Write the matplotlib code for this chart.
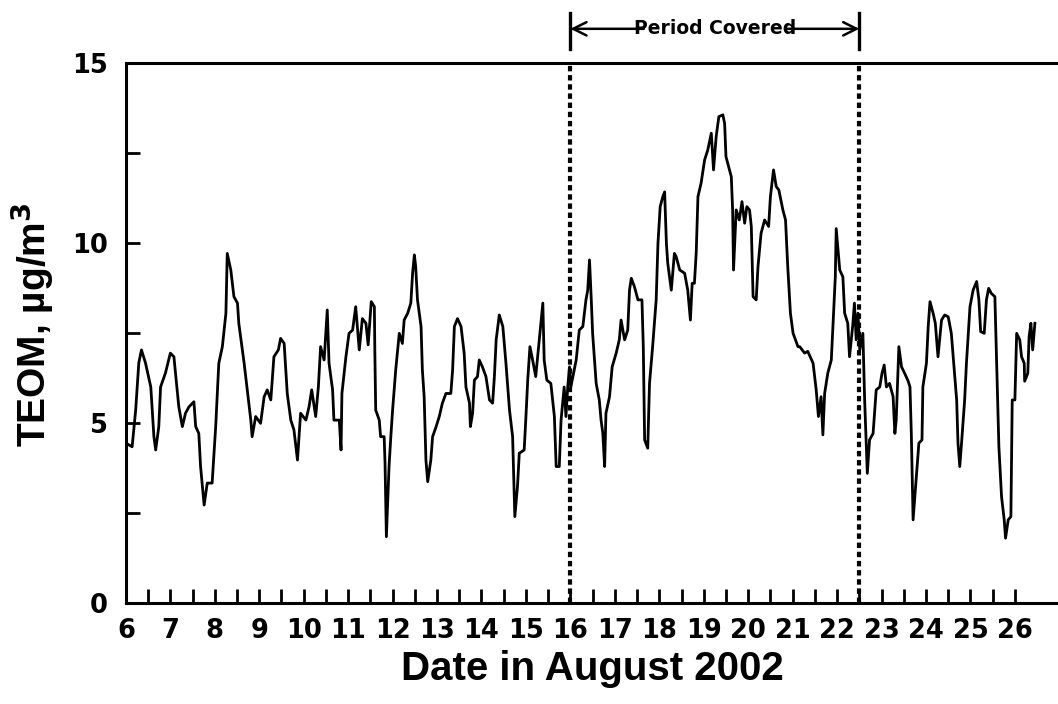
import matplotlib
matplotlib.use("Agg")
from matplotlib import pyplot as plt
import numpy as np

# TEOM readings (day of August 2002, ug/m3)
day = [6.00, 6.14, 6.22, 6.29, 6.35, 6.44, 6.56, 6.63, 6.67, 6.74, 6.78, 6.89,
       7.00, 7.08, 7.19, 7.27, 7.34, 7.42, 7.53, 7.57, 7.64, 7.68, 7.76, 7.83,
       7.94, 8.02, 8.09, 8.17, 8.25, 8.28, 8.36, 8.43, 8.51, 8.54, 8.66, 8.73,
       8.81, 8.84, 8.92, 9.03, 9.11, 9.18, 9.26, 9.33, 9.43, 9.48, 9.56, 9.63,
       9.71, 9.78, 9.86, 9.93, 10.05, 10.12, 10.18, 10.27, 10.33, 10.38, 10.46,
       10.53, 10.57, 10.65, 10.68, 10.80, 10.84, 10.86, 10.95, 11.02, 11.10,
       11.17, 11.25, 11.32, 11.40, 11.45, 11.52, 11.59, 11.60, 11.62, 11.70,
       11.73, 11.81, 11.83, 11.86, 11.92, 11.96, 12.00, 12.07, 12.15, 12.22,
       12.26, 12.34, 12.41, 12.45, 12.49, 12.52, 12.56, 12.64, 12.67, 12.71,
       12.75, 12.79, 12.86, 12.90, 12.98, 13.05, 13.12, 13.20, 13.31, 13.35,
       13.39, 13.46, 13.54, 13.61, 13.65, 13.73, 13.75, 13.80, 13.84, 13.91,
       13.95, 14.02, 14.10, 14.18, 14.25, 14.29, 14.33, 14.40, 14.48, 14.55,
       14.63, 14.70, 14.75, 14.81, 14.85, 14.96, 15.00, 15.04, 15.09, 15.15,
       15.22, 15.30, 15.38, 15.41, 15.47, 15.56, 15.64, 15.68, 15.75, 15.79,
       15.86, 15.90, 15.94, 15.98, 16.01, 16.13, 16.20, 16.28, 16.35, 16.39,
       16.43, 16.47, 16.50, 16.58, 16.65, 16.69, 16.73, 16.77, 16.80, 16.88,
       16.94, 17.03, 17.10, 17.14, 17.22, 17.29, 17.33, 17.37, 17.44, 17.52,
       17.61, 17.64, 17.67, 17.74, 17.78, 17.85, 17.93, 17.97, 18.02, 18.08,
       18.12, 18.16, 18.19, 18.27, 18.34, 18.38, 18.46, 18.57, 18.64, 18.70,
       18.74, 18.79, 18.83, 18.87, 18.94, 19.02, 19.09, 19.17, 19.22, 19.28,
       19.34, 19.43, 19.47, 19.50, 19.62, 19.65, 19.67, 19.73, 19.80, 19.86,
       19.92, 19.97, 20.03, 20.07, 20.11, 20.18, 20.22, 20.29, 20.37, 20.46,
       20.50, 20.57, 20.63, 20.69, 20.78, 20.84, 20.89, 20.95, 21.01, 21.12,
       21.16, 21.27, 21.34, 21.46, 21.53, 21.58, 21.64, 21.68, 21.72, 21.79,
       21.87, 21.91, 21.96, 21.98, 22.06, 22.13, 22.17, 22.24, 22.28, 22.35,
       22.39, 22.43, 22.47, 22.51, 22.58, 22.62, 22.68, 22.73, 22.81, 22.88,
       22.96, 23.01, 23.06, 23.11, 23.18, 23.26, 23.30, 23.33, 23.39, 23.45,
       23.52, 23.60, 23.64, 23.67, 23.71, 23.76, 23.84, 23.91, 23.93, 24.01,
       24.05, 24.09, 24.16, 24.21, 24.27, 24.35, 24.42, 24.50, 24.57, 24.63,
       24.69, 24.72, 24.76, 24.80, 24.87, 24.91, 24.99, 25.06, 25.14, 25.19,
       25.23, 25.31, 25.36, 25.41, 25.47, 25.55, 25.59, 25.64, 25.70, 25.76,
       25.79, 25.85, 25.91, 25.94, 26.00, 26.04, 26.11, 26.15, 26.21, 26.22,
       26.29, 26.32, 26.36, 26.40, 26.45]
teom = [4.44, 4.34, 5.36, 6.67, 7.03, 6.67, 6.00, 4.62, 4.25, 4.90, 6.00, 6.39,
        6.94, 6.84, 5.45, 4.90, 5.27, 5.45, 5.59, 4.90, 4.71, 3.79, 2.72, 3.33,
        3.33, 4.90, 6.66, 7.12, 8.05, 9.71, 9.25, 8.51, 8.33, 7.77, 6.66, 5.92,
        5.08, 4.62, 5.18, 4.99, 5.73, 5.92, 5.64, 6.84, 7.03, 7.35, 7.21, 5.82,
        5.08, 4.81, 3.97, 5.27, 5.08, 5.45, 5.92, 5.18, 6.00, 7.12, 6.75,
        8.14, 6.66, 5.92, 5.08, 5.08, 4.25, 5.82, 6.84, 7.49, 7.58,
        8.23, 7.03, 7.90, 7.77, 7.17, 8.37, 8.23, 7.03, 5.36, 5.08,
        4.62, 4.62, 3.88, 1.84, 3.79, 4.62, 5.36, 6.47, 7.49, 7.21,
        7.86, 8.05, 8.33, 9.16, 9.67, 9.34, 8.42, 7.68, 6.47, 5.73,
        3.97, 3.37, 3.97, 4.62, 4.90, 5.18, 5.55, 5.82, 5.82, 6.47,
        7.68, 7.90, 7.68, 6.94, 6.00, 5.55, 4.90, 5.27, 6.19, 6.29,
        6.75, 6.56, 6.29, 5.64, 5.55, 6.29, 7.31, 8.00, 7.68, 6.66,
        5.36, 4.62, 2.40, 3.24, 4.16, 4.25, 5.18, 6.19, 7.12, 6.75,
        6.29, 7.31, 8.33, 6.75, 6.19, 6.10, 5.18, 3.79, 3.79, 5.08,
        6.00, 5.18, 6.00, 6.56, 6.00, 6.75, 7.58, 7.68, 8.42, 8.69,
        9.53, 8.42, 7.49, 6.10, 5.64, 5.08, 4.71, 3.79, 5.27, 5.73,
        6.56, 6.94, 7.31, 7.86, 7.31, 7.58, 8.69, 9.02, 8.79, 8.42,
        8.42, 7.12, 4.53, 4.30, 6.10, 7.12, 8.42, 9.99, 11.01, 11.29,
        11.42, 9.99, 9.44, 8.69, 9.71, 9.62, 9.25, 9.16, 8.69, 7.86,
        8.88, 8.88, 9.71, 11.29, 11.66, 12.31, 12.58, 13.05, 12.03, 12.96,
        13.51, 13.56, 13.32, 12.40, 11.84, 10.92, 9.25, 10.92, 10.64, 11.15,
        10.55, 11.01, 10.92, 10.46, 8.51, 8.42, 9.34, 10.27, 10.64, 10.46,
        11.29, 12.03, 11.57, 11.47, 10.92, 10.64, 9.34, 8.05, 7.49, 7.12,
        7.12, 6.94, 6.99, 6.66, 5.92, 5.18, 5.73, 4.67, 5.82, 6.38,
        6.75, 7.77, 9.06, 10.40, 9.25, 9.06, 8.05, 7.77, 6.84, 7.68,
        8.33, 7.31, 8.05, 7.03, 7.49, 5.64, 3.60, 4.53, 4.71, 5.92,
        6.00, 6.38, 6.61, 6.00, 6.10, 5.73, 4.71, 5.08, 7.12, 6.56,
        6.38, 6.16, 6.00, 4.71, 2.31, 3.14, 4.44, 4.53, 6.00, 6.66,
        7.68, 8.37, 8.05, 7.77, 6.84, 7.86, 8.00, 7.95, 7.49, 6.56,
        5.64, 4.44, 3.79, 4.44, 5.64, 6.66, 8.23, 8.69, 8.93, 8.42,
        7.54, 7.49, 8.42, 8.74, 8.60, 8.51, 6.66, 4.34, 2.95, 2.31,
        1.80, 2.31, 2.40, 5.64, 5.64, 7.49, 7.31, 6.84, 6.66, 6.16,
        6.38, 7.40, 7.77, 7.03, 7.77]

period_start = 16.0
period_end = 22.5
day_labels = list(range(6, 27))
y_labels = [0, 5, 10, 15]

fig = plt.figure(figsize=(10.58, 7.04), dpi=100)
ax = fig.add_axes([0.119, 0.1435, 0.881, 0.767])

ax.plot(day, teom, color='k', lw=2.0)
for d in (period_start, period_end):
    ax.axvline(d, color='k', lw=3, ls=(0, (1.3, 0.9)))

ax.set_xlim(6, 26.97)
ax.set_ylim(0, 15)

ax.set_xticks(day_labels)
ax.set_xticklabels([str(d) for d in day_labels])
ax.set_xticks(np.arange(6.5, 26, 1.0), minor=True)
ax.set_yticks(y_labels)
ax.set_yticks([2.5, 7.5, 12.5], minor=True)

ax.tick_params(axis='both', which='both', direction='in', width=2, length=10,
               top=False, right=False)
ax.tick_params(axis='x', which='major', pad=11)
ax.tick_params(axis='y', which='major', pad=13)
for lbl in ax.get_xticklabels() + ax.get_yticklabels():
    lbl.set_fontweight('bold')
    lbl.set_fontsize(18.5)
    lbl.set_family('DejaVu Sans')

for s in ('left', 'bottom', 'top'):
    ax.spines[s].set_linewidth(2.2)
ax.spines['right'].set_visible(False)

ax.set_xlabel('Date in August 2002', fontsize=29, fontweight='bold',
              family='Liberation Sans', labelpad=4)
ax.set_ylabel(r'TEOM, µg/m$\mathbf{^3}$', fontsize=28, fontweight='bold',
              family='Liberation Sans')
ax.yaxis.set_label_coords(-0.075, 0.515)

# "Period Covered" bracket above the plot
ytop = 15.95
ax.plot([period_start, period_start], [15.4, 16.4], color='k', lw=2.4,
        clip_on=False)
ax.plot([period_end, period_end], [15.4, 16.4], color='k', lw=2.4,
        clip_on=False)
mid = (period_start + period_end) / 2
ax.annotate('', xy=(period_start, ytop), xytext=(mid - 1.6, ytop),
            arrowprops=dict(arrowstyle='->', lw=1.8, color='k',
                            shrinkA=0, shrinkB=0, mutation_scale=24),
            annotation_clip=False)
ax.annotate('', xy=(period_end, ytop), xytext=(mid + 1.6, ytop),
            arrowprops=dict(arrowstyle='->', lw=1.8, color='k',
                            shrinkA=0, shrinkB=0, mutation_scale=24),
            annotation_clip=False)
ax.text(mid, ytop, 'Period Covered', ha='center', va='center',
        fontsize=13.5, fontweight='bold', family='DejaVu Sans')

fig.savefig('out.png', dpi=100)
